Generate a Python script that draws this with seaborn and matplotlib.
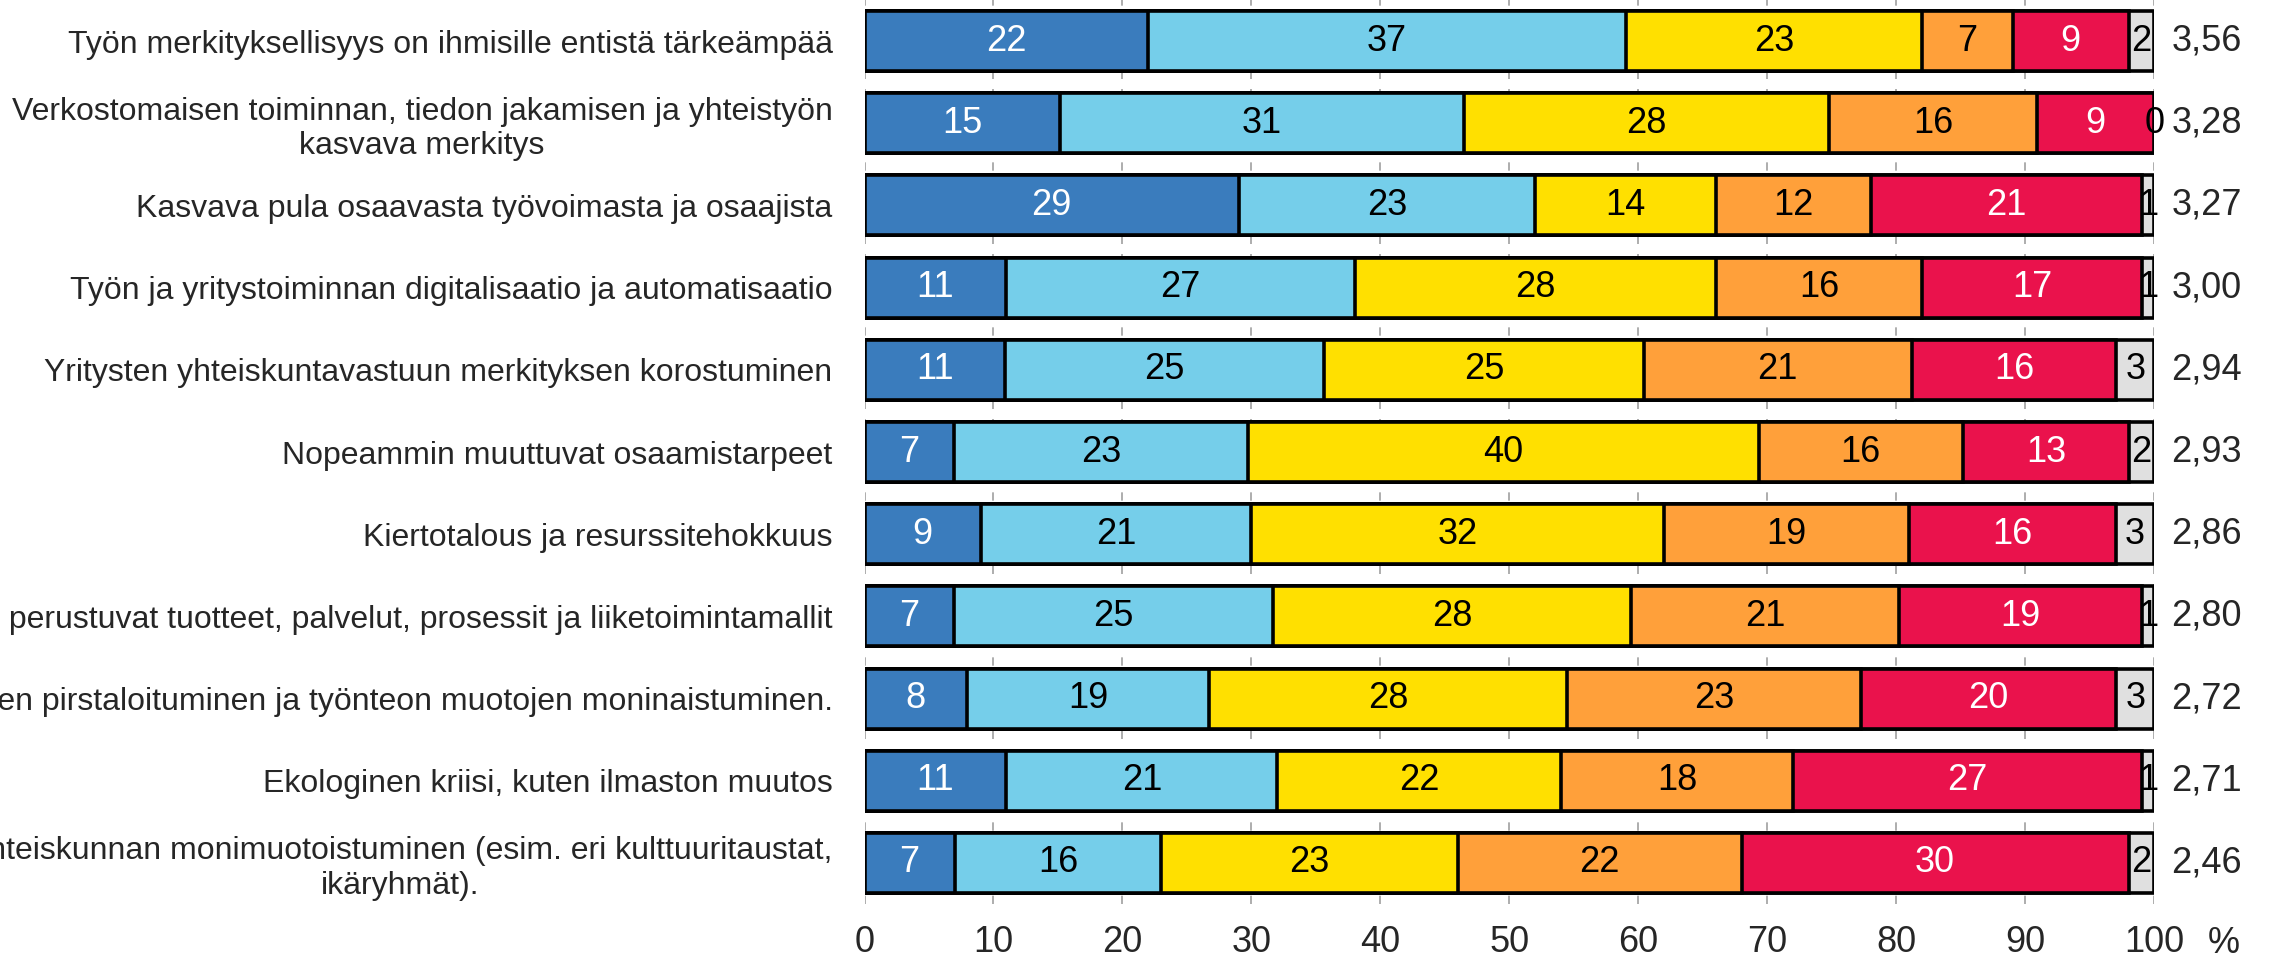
import numpy as np
import matplotlib
matplotlib.use("Agg")
import matplotlib.pyplot as plt
import matplotlib.transforms as mtransforms
import seaborn as sns

# Categories (top to bottom)
labels = [
    "Työn merkityksellisyys on ihmisille entistä tärkeämpää",
    "Verkostomaisen toiminnan, tiedon jakamisen ja yhteistyön\nkasvava merkitys",
    "Kasvava pula osaavasta työvoimasta ja osaajista",
    "Työn ja yritystoiminnan digitalisaatio ja automatisaatio",
    "Yritysten yhteiskuntavastuun merkityksen korostuminen",
    "Nopeammin muuttuvat osaamistarpeet",
    "Kiertotalous ja resurssitehokkuus",
    "Uusiin teknologioihin perustuvat tuotteet, palvelut, prosessit ja liiketoimintamallit",
    "Työurien pirstaloituminen ja työnteon muotojen moninaistuminen.",
    "Ekologinen kriisi, kuten ilmaston muutos",
    "Yhteiskunnan monimuotoistuminen (esim. eri kulttuuritaustat,\nikäryhmät).",
]

# Shares (%) per answer level, one list per level
level1 = [22, 15, 29, 11, 11, 7, 9, 7, 8, 11, 7]
level2 = [37, 31, 23, 27, 25, 23, 21, 25, 19, 21, 16]
level3 = [23, 28, 14, 28, 25, 40, 32, 28, 28, 22, 23]
level4 = [7, 16, 12, 16, 21, 16, 19, 21, 23, 18, 22]
level5 = [9, 9, 21, 17, 16, 13, 16, 19, 20, 27, 30]
level6 = [2, 0, 1, 1, 3, 2, 3, 1, 3, 1, 2]

# Mean scores
means = ["3,56", "3,28", "3,27", "3,00", "2,94", "2,93", "2,86", "2,80", "2,72", "2,71", "2,46"]

levels = [level1, level2, level3, level4, level5, level6]
colors = ["#3a7cbd", "#75ceea", "#ffe000", "#ffa03a", "#ea124c", "#e0e0e0"]
text_colors = ["white", "black", "black", "black", "white", "black"]

vals = np.array(levels, dtype=float)
norm = vals / vals.sum(axis=0) * 100  # stack to 100 %
cum = np.cumsum(norm, axis=0)

sns.set_style("white")
plt.rcParams['font.family'] = ['Liberation Sans', 'DejaVu Sans']

fig = plt.figure(figsize=(22.75, 9.64), dpi=100)
ax = fig.add_axes([0.380, 0.0622, 0.567, 0.9378])

# draw cumulative bars from the longest to the shortest so they stack
for k in range(len(levels) - 1, -1, -1):
    sns.barplot(x=cum[k], y=labels, orient="h", color=colors[k],
                edgecolor="black", linewidth=2.6, width=0.73,
                saturation=1, errorbar=None, ax=ax)

# segment labels
for k in range(len(levels)):
    for i in range(len(labels)):
        start = cum[k][i] - norm[k][i]
        ax.text(start + norm[k][i] / 2, i, str(levels[k][i]),
                ha="center", va="center", fontsize=26, color=text_colors[k])

# mean values at the right
for i, m in enumerate(means):
    ax.text(101.3, i, m, ha="left", va="center", fontsize=26, clip_on=False)

ax.set_xlim(0, 100)
ax.set_ylim(len(labels) - 0.5, -0.5)
ax.set_xticks(range(0, 101, 10))
ax.tick_params(axis="x", labelsize=26, length=0, pad=15)
ax.tick_params(axis="y", labelsize=23, length=0, pad=23)
for t in ax.get_yticklabels():
    t.set_multialignment("center")
ax.set_xlabel("")
ax.set_ylabel("")

ax.xaxis.grid(True, color="#a0a0a0", linestyle=(0, (5, 6)), linewidth=1.2)
ax.set_axisbelow(True)
for s in ax.spines.values():
    s.set_visible(False)

trans = mtransforms.blended_transform_factory(ax.transData, ax.transAxes)
ax.text(105.4, -0.024, "%", transform=trans, ha="center", va="top",
        fontsize=26, clip_on=False)

fig.savefig("out.png", dpi=100)
